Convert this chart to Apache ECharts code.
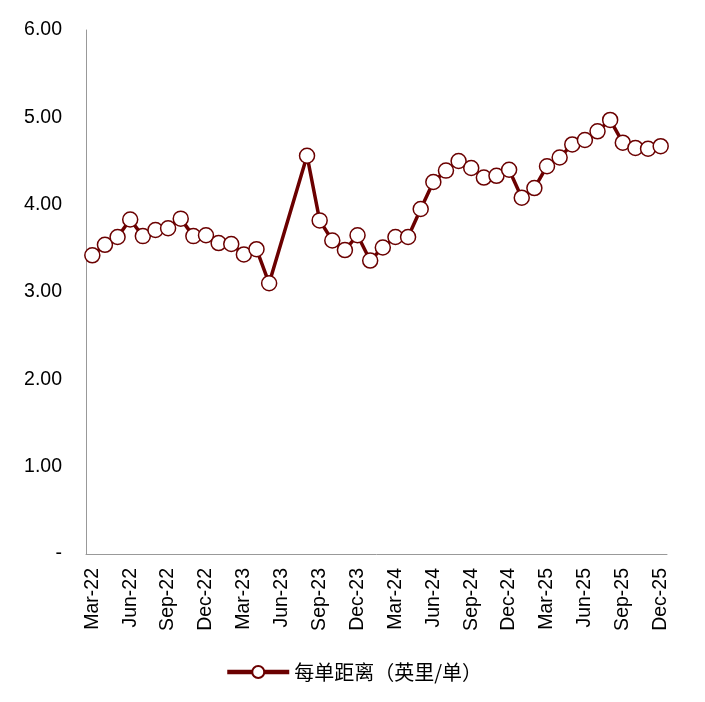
<!DOCTYPE html>
<html><head><meta charset="utf-8">
<script src="https://cdn.jsdelivr.net/npm/echarts@6/dist/echarts.min.js"></script>
<style>html,body{margin:0;padding:0;background:#fff}#c{width:705px;height:702px}</style>
</head><body><div id="c"></div>
<script>
const categories = ["Mar-22","Apr-22","May-22","Jun-22","Jul-22","Aug-22","Sep-22","Oct-22","Nov-22","Dec-22","Jan-23","Feb-23","Mar-23","Apr-23","May-23","Jun-23","Jul-23","Aug-23","Sep-23","Oct-23","Nov-23","Dec-23","Jan-24","Feb-24","Mar-24","Apr-24","May-24","Jun-24","Jul-24","Aug-24","Sep-24","Oct-24","Nov-24","Dec-24","Jan-25","Feb-25","Mar-25","Apr-25","May-25","Jun-25","Jul-25","Aug-25","Sep-25","Oct-25","Nov-25","Dec-25"];
const distance = [3.42,3.54,3.63,3.83,3.64,3.71,3.73,3.84,3.64,3.65,3.56,3.55,3.43,3.49,3.10,null,null,4.56,3.82,3.59,3.48,3.65,3.36,3.51,3.63,3.63,3.95,4.26,4.39,4.50,4.42,4.31,4.33,4.40,4.08,4.19,4.44,4.54,4.69,4.74,4.84,4.97,4.71,4.65,4.64,4.67];
const yTicks = [0,1,2,3,4,5,6];
const seriesName = "每单距离（英里/单）";
const color = "#6B0000";
const chart = echarts.init(document.getElementById('c'));
chart.setOption({
  animation:false,
  grid:{left:86,right:38,top:30,bottom:148},
  legend:{top:657,left:220,itemWidth:62,itemHeight:15,
    lineStyle:{width:4.5},
    textStyle:{fontSize:20,color:'#000',fontFamily:'"Noto Sans CJK SC", sans-serif'},
    data:[{name:seriesName}]},
  xAxis:{type:'category',data:categories,boundaryGap:true,
    axisLine:{lineStyle:{color:'#999',width:1}},
    axisTick:{interval:2,length:6,lineStyle:{color:'#999'}},
    axisLabel:{interval:2,rotate:90,fontSize:19.5,color:'#000',fontFamily:'Liberation Sans, Arial',margin:14}},
  yAxis:{type:'value',min:0,max:6,interval:1,
    axisLine:{show:true,lineStyle:{color:'#999',width:1}},
    axisTick:{show:false},splitLine:{show:false},
    axisLabel:{fontSize:19.5,color:'#000',fontFamily:'Liberation Sans, Arial',margin:24,
      formatter:v=> yTicks.includes(v)? (v===0?'-':v.toFixed(2)) : ''}},
  series:[{name:seriesName,type:'line',data:distance,connectNulls:true,
    symbol:'circle',symbolSize:15,showAllSymbol:true,
    lineStyle:{color:color,width:3.5},
    itemStyle:{color:'#fff',borderColor:color,borderWidth:1.5}}]
});
</script></body></html>
